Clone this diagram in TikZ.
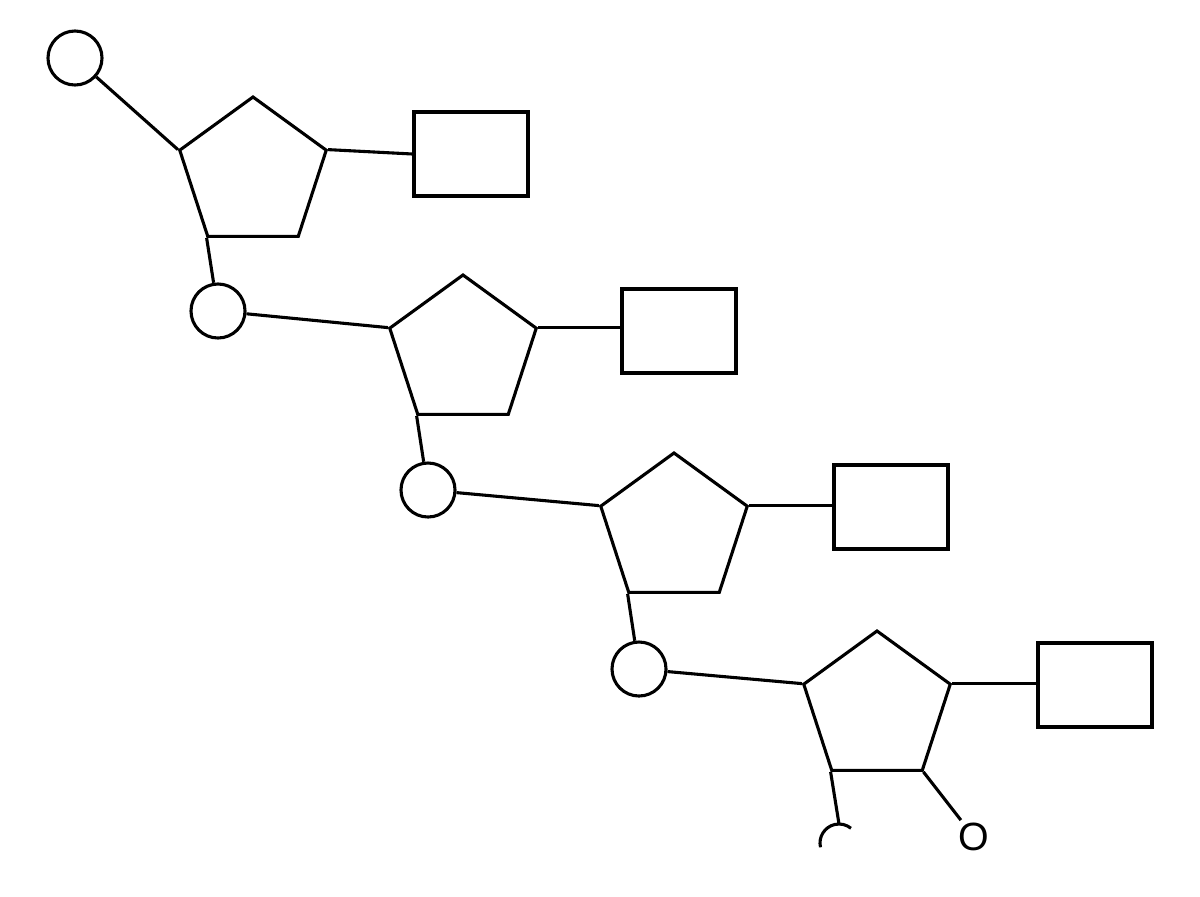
\documentclass[tikz,border=0pt]{standalone}
\usepackage{fontspec}
\setsansfont{Liberation Sans}
\usetikzlibrary{shapes,positioning,calc}

\tikzset{
    sugar/.style={draw, regular polygon, regular polygon sides=5, inner sep=0pt, minimum size=3.85cm},
    phos/.style={draw, circle, inner sep=0pt, minimum size=1.35cm},
    base/.style={draw, rectangle, inner sep=0pt, minimum width=2.85cm, minimum height=2.1cm}
}

\begin{document}
\begin{tikzpicture}[x=0.025cm, y=-0.025cm, line width=2.2pt]
    \useasboundingbox (0,0) rectangle (1200,896);

    % Nucleotide 1
    \node[phos] (p0) at (75,58) {};
    \node[sugar] (s1) at (253,174) {};
    \node[base] (b1) at (471,154) {};
    \draw (p0) -- (s1.corner 2);
    \draw (s1.corner 5) -- (b1.west);

    % Nucleotide 2
    \node[phos] (p1) at (218,311) {};
    \node[sugar] (s2) at (463,352) {};
    \node[base] (b2) at (679,331) {};
    \draw (s1.corner 3) -- (p1);
    \draw (p1) -- (s2.corner 2);
    \draw (s2.corner 5) -- (s2.corner 5 -| b2.west);

    % Nucleotide 3
    \node[phos] (p2) at (428,490) {};
    \node[sugar] (s3) at (674,530) {};
    \node[base] (b3) at (891,507) {};
    \draw (s2.corner 3) -- (p2);
    \draw (p2) -- (s3.corner 2);
    \draw (s3.corner 5) -- (s3.corner 5 -| b3.west);

    % Nucleotide 4
    \node[phos] (p3) at (639,669) {};
    \node[sugar] (s4) at (877,708) {};
    \node[base] (b4) at (1095,685) {};
    \draw (s3.corner 3) -- (p3);
    \draw (p3) -- (s4.corner 2);
    \draw (s4.corner 5) -- (s4.corner 5 -| b4.west);

    % Ends
    \coordinate (tail) at (839,824);
    \draw (s4.corner 3) -- (tail);
    \draw (tail) ++(-90:0.475cm) ++(193:0.475cm) arc[start angle=193, end angle=51, radius=0.475cm];
    \node[inner sep=1pt, font=\sffamily\fontsize{28}{30}\selectfont] (oh) at (974,837) {O};
    \draw (s4.corner 4) -- (oh);
\end{tikzpicture}
\end{document}
